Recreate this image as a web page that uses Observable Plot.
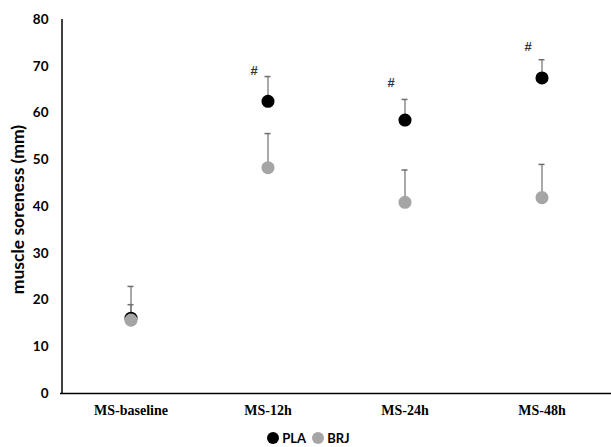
<!DOCTYPE html>
<html><head><meta charset="utf-8">
<script src="https://cdn.jsdelivr.net/npm/d3@7"></script>
<script src="https://cdn.jsdelivr.net/npm/@observablehq/plot@0.6"></script>
<style>
body{margin:0;background:#fff;}
#legend{position:absolute;top:430px;left:0;width:611px;text-align:center;font:bold 13px Lato, "Open Sans", sans-serif;color:#000;}
#legend span.sw{display:inline-block;width:12px;height:12px;border-radius:50%;vertical-align:-1px;margin:0 3px 0 6px;}
</style></head>
<body>
<div id="chart"></div>
<div id="legend"></div>
<script>
const categories = ["MS-baseline", "MS-12h", "MS-24h", "MS-48h"];
const series = ["PLA", "BRJ"];
const plaValues = [16.1, 62.5, 58.5, 67.5];
const plaUpper = [19.0, 67.8, 62.9, 71.4];
const brjValues = [15.7, 48.3, 40.9, 41.9];
const brjUpper = [22.9, 55.6, 47.8, 49.0];
const hashY = [null, 69.1, 66.5, 74.2];
const yTicks = [0, 10, 20, 30, 40, 50, 60, 70, 80];
const colors = {PLA: "#000000", BRJ: "#a5a5a5"};

const rows = [];
categories.forEach((c, i) => {
  rows.push({cat: c, s: "PLA", v: plaValues[i], u: plaUpper[i]});
  rows.push({cat: c, s: "BRJ", v: brjValues[i], u: brjUpper[i]});
});
const hashes = categories.map((c, i) => ({cat: c, y: hashY[i]})).filter(d => d.y != null);

const chart = Plot.plot({
  width: 611, height: 428,
  marginLeft: 60, marginRight: 0, marginTop: 19, marginBottom: 35,
  style: {background: "#fff"},
  x: {domain: categories, padding: 0, axis: null},
  y: {domain: [0, 80], axis: null},
  marks: [
    Plot.ruleX(rows, {x: "cat", y1: "v", y2: "u", stroke: "#6f6f6f", strokeWidth: 1.2}),
    Plot.tickY(rows, {x: "cat", y: "u", stroke: "#6f6f6f", strokeWidth: 1.5, insetLeft: 65.5, insetRight: 65.5}),
    Plot.dot(rows.filter(d => d.s === "PLA"), {x: "cat", y: "v", r: 5.8, fill: colors.PLA, stroke: colors.PLA}),
    Plot.dot(rows.filter(d => d.s === "BRJ"), {x: "cat", y: "v", r: 5.8, fill: colors.BRJ, stroke: colors.BRJ}),
    Plot.text(hashes, {x: "cat", y: "y", text: () => "#", dx: -14, fontSize: 13, fontWeight: "bold", fontFamily: "Liberation Sans, sans-serif", fill: "#333"}),
    Plot.axisY({ticks: yTicks, tickSize: 0, tickPadding: 12, tickFormat: d => d, fontSize: 13.5, fontWeight: "bold", fontFamily: "Lato, sans-serif", color: "#000", label: null}),
    Plot.axisX({tickSize: 0, tickPadding: 12, fontSize: 14, fontWeight: "bold", fontFamily: "Liberation Serif, serif", color: "#000", label: null}),
    Plot.ruleX([0], {x: () => categories[0], y1: 0, y2: 80, dx: -69, stroke: "#000", strokeWidth: 1.5}),
    Plot.ruleY([0], {stroke: "#000", strokeWidth: 1.5}),
    Plot.text(["muscle soreness (mm)"], {frameAnchor: "left", textAnchor: "middle", dx: -42, dy: 3, rotate: -90, fontSize: 17.5, fontWeight: "bold", fontFamily: "Lato, sans-serif", fill: "#000"})
  ]
});
document.getElementById("chart").appendChild(chart);

const leg = document.getElementById("legend");
series.forEach(s => {
  const sw = document.createElement("span");
  sw.className = "sw"; sw.style.background = colors[s];
  leg.appendChild(sw);
  leg.appendChild(document.createTextNode(s));
});
</script>
</body></html>
